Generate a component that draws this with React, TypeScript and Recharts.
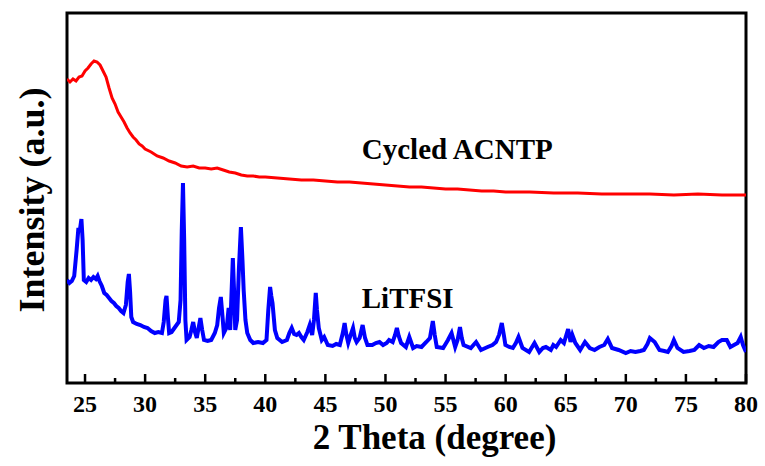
import { LineChart, Line, XAxis, YAxis, ReferenceArea, ReferenceDot } from "recharts";

// 2θ ticks along the bottom (majors every 5°, minors in between)
const thetaTicks = [25, 27.5, 30, 32.5, 35, 37.5, 40, 42.5, 45, 47.5, 50, 52.5, 55, 57.5, 60, 62.5, 65, 67.5, 70, 72.5, 75, 77.5, 80];

// [2θ, intensity a.u.]
const acntp: [number, number][] = [
  [23.5, 304], [23.75, 301], [24.0, 304], [24.25, 302], [24.5, 306], [24.75, 307], [25.0, 312], [25.25, 315],
  [25.5, 319], [25.75, 322], [26.0, 321], [26.25, 318], [26.5, 312], [26.75, 306], [27.0, 295], [27.25, 285],
  [27.5, 279], [27.75, 271], [28.0, 266], [28.25, 261], [28.5, 255], [28.75, 250], [29.0, 246], [29.25, 243],
  [29.5, 239], [29.75, 237], [30.0, 234], [30.5, 231], [31.0, 227], [31.5, 225], [32.0, 222], [32.5, 220],
  [33.0, 217], [33.5, 216], [34.0, 217], [34.5, 215], [35.0, 215], [35.5, 214], [36.0, 215], [36.5, 213],
  [37.0, 211], [37.5, 210], [38.0, 208], [38.5, 207], [39.0, 207], [39.5, 206], [40.0, 206], [41.0, 205],
  [42.0, 204], [43.0, 203], [44.0, 203], [45.0, 202], [46.0, 201], [47.0, 201], [48.0, 200], [49.0, 199],
  [50.0, 198], [51.0, 197], [52.0, 196], [53.0, 196], [54.0, 195], [55.0, 194], [56.0, 194], [57.0, 193],
  [58.0, 192], [59.0, 192], [60.0, 191], [62.0, 191], [64.0, 190], [66.0, 190], [68.0, 189], [70.0, 189],
  [72.0, 189], [74.0, 188], [76.0, 189], [78.0, 188], [80.0, 188],
];

const litfsi: [number, number][] = [
  [23.5, 103], [23.7, 100], [23.9, 102], [24.1, 107], [24.3, 133], [24.45, 155], [24.55, 151], [24.7, 164],
  [24.8, 143], [24.9, 103], [25.1, 101], [25.3, 105], [25.5, 103], [25.7, 106], [25.9, 104], [26.05, 107],
  [26.2, 102], [26.4, 97], [26.6, 90], [26.8, 88], [27.0, 85], [27.2, 82], [27.4, 80], [27.6, 77],
  [27.8, 75], [28.0, 72], [28.2, 70], [28.4, 78], [28.55, 101], [28.65, 109], [28.75, 91], [28.85, 66],
  [29.0, 61], [29.3, 59], [29.6, 58], [29.9, 56], [30.2, 55], [30.5, 52], [30.8, 50], [31.1, 51],
  [31.4, 50], [31.55, 61], [31.7, 83], [31.78, 87], [31.9, 65], [32.0, 50], [32.2, 51], [32.5, 56],
  [32.8, 61], [32.95, 83], [33.05, 153], [33.15, 200], [33.25, 143], [33.35, 63], [33.45, 43], [33.7, 46],
  [33.85, 53], [34.0, 61], [34.15, 51], [34.3, 45], [34.45, 55], [34.6, 65], [34.75, 53], [34.9, 43],
  [35.2, 42], [35.5, 43], [35.8, 50], [36.0, 58], [36.15, 75], [36.3, 86], [36.45, 65], [36.55, 50],
  [36.8, 56], [36.95, 75], [37.08, 53], [37.2, 93], [37.3, 125], [37.4, 93], [37.5, 53], [37.65, 63],
  [37.8, 113], [37.97, 156], [38.1, 123], [38.2, 93], [38.35, 63], [38.5, 50], [38.75, 43], [39.0, 40],
  [39.4, 41], [39.8, 40], [40.1, 43], [40.25, 73], [40.4, 96], [40.5, 87], [40.6, 80], [40.8, 53],
  [41.0, 45], [41.4, 41], [41.8, 43], [42.0, 50], [42.2, 55], [42.4, 49], [42.6, 48], [42.8, 50],
  [43.0, 46], [43.2, 43], [43.5, 51], [43.7, 58], [43.9, 48], [44.05, 63], [44.2, 90], [44.3, 73],
  [44.45, 55], [44.7, 43], [44.9, 46], [45.2, 38], [45.6, 37], [45.9, 39], [46.2, 38], [46.45, 50],
  [46.6, 60], [46.75, 48], [46.9, 40], [47.1, 48], [47.3, 55], [47.45, 45], [47.6, 41], [47.85, 45],
  [48.1, 58], [48.3, 45], [48.5, 38], [48.9, 38], [49.2, 40], [49.5, 41], [49.8, 38], [50.1, 40],
  [50.3, 43], [50.6, 41], [50.8, 48], [50.95, 55], [51.1, 47], [51.3, 40], [51.7, 36], [51.98, 46],
  [52.3, 35], [52.6, 37], [53.0, 36], [53.4, 41], [53.7, 45], [53.94, 62], [54.1, 48], [54.27, 36],
  [54.8, 35], [55.2, 43], [55.5, 50], [55.8, 36], [56.0, 43], [56.2, 56], [56.35, 45], [56.5, 38],
  [57.1, 35], [57.54, 41], [57.95, 33], [58.5, 36], [58.9, 38], [59.2, 41], [59.45, 48], [59.68, 60],
  [59.85, 48], [59.98, 38], [60.3, 36], [60.6, 35], [60.85, 40], [61.07, 46], [61.25, 40], [61.4, 35],
  [61.95, 31], [62.4, 40], [62.8, 31], [63.1, 35], [63.35, 36], [63.76, 33], [63.97, 38], [64.2, 36],
  [64.58, 43], [64.85, 40], [65.05, 48], [65.2, 54], [65.4, 41], [65.55, 48], [65.8, 40], [66.2, 33],
  [66.6, 41], [67.0, 35], [67.4, 33], [67.8, 36], [68.2, 38], [68.5, 44], [68.85, 35], [69.4, 33],
  [70.0, 30], [70.4, 32], [70.8, 31], [71.2, 32], [71.5, 33], [71.8, 39], [72.0, 45], [72.4, 41],
  [72.8, 33], [73.2, 32], [73.5, 31], [73.8, 37], [74.0, 43], [74.3, 35], [74.8, 31], [75.3, 32],
  [75.7, 33], [76.1, 38], [76.5, 35], [76.9, 37], [77.3, 36], [77.7, 41], [78.0, 43], [78.4, 43],
  [78.7, 36], [79.0, 38], [79.3, 40], [79.56, 46], [79.75, 38], [80.0, 31],
];

const FONT = "'Times New Roman', 'Liberation Serif', serif";

const toRows = (pts: [number, number][]) => pts.map(([t, v]) => ({ t, v }));

function ThetaTick({ x, y, payload }: any) {
  const major = payload.value % 5 === 0;
  return (
    <g>
      <line x1={x} x2={x} y1={y} y2={y - (major ? 9 : 5)} stroke="#000" strokeWidth={2.5} />
      {major && (
        <text x={x} y={y + 29} textAnchor="middle" fontFamily={FONT} fontWeight="bold" fontSize={24} fill="#000">
          {payload.value}
        </text>
      )}
    </g>
  );
}

function SeriesName({ viewBox, text }: any) {
  return (
    <text x={viewBox.x} y={viewBox.y} fontFamily={FONT} fontWeight="bold" fontSize={29} fill="#000">
      {text}
    </text>
  );
}

// both axis titles, placed relative to the x-axis box
function AxisTitles({ viewBox }: any) {
  const midY = viewBox.y - 370 / 2 + 2;
  return (
    <g>
      <text
        x={viewBox.x + viewBox.width / 2 + 28}
        y={viewBox.y + 66}
        textAnchor="middle"
        fontFamily={FONT}
        fontWeight="bold"
        fontSize={35}
        fill="#000"
      >
        2 Theta (degree)
      </text>
      <text
        x={32}
        y={midY}
        transform={`rotate(-90, 32, ${midY})`}
        textAnchor="middle"
        dominantBaseline="central"
        fontFamily={FONT}
        fontWeight="bold"
        fontSize={36}
        fill="#000"
      >
        Intensity (a.u.)
      </text>
    </g>
  );
}

export default function App() {
  return (
    <div style={{ position: "absolute", left: 0, top: 0, width: 765, height: 466, background: "#fff" }}>
      <LineChart width={765} height={466} margin={{ top: 13, right: 19, bottom: 0, left: 67 }}>
        <XAxis
          dataKey="t"
          type="number"
          domain={[23.5, 80]}
          allowDataOverflow
          ticks={thetaTicks}
          interval={0}
          tickSize={0}
          tickMargin={0}
          axisLine={false}
          tickLine={false}
          tick={<ThetaTick />}
          height={83}
          label={{ content: (p: any) => <AxisTitles {...p} /> }}
        />
        <YAxis type="number" domain={[0, 370]} width={0} tick={false} axisLine={false} tickLine={false} />
        <Line
          data={toRows(acntp)}
          dataKey="v"
          type="linear"
          stroke="#ff0000"
          strokeWidth={3}
          dot={false}
          isAnimationActive={false}
        />
        <Line
          data={toRows(litfsi)}
          dataKey="v"
          type="linear"
          stroke="#0000ff"
          strokeWidth={4}
          dot={false}
          isAnimationActive={false}
        />
        <ReferenceDot
          x={48.03}
          y={224}
          r={0}
          fill="none"
          stroke="none"
          label={{ content: (p: any) => <SeriesName {...p} text="Cycled ACNTP" /> }}
        />
        <ReferenceDot
          x={48.03}
          y={75}
          r={0}
          fill="none"
          stroke="none"
          label={{ content: (p: any) => <SeriesName {...p} text="LiTFSI" /> }}
        />
        <ReferenceArea x1={23.5} x2={80} y1={0} y2={370} fill="none" stroke="#000" strokeWidth={3} />
      </LineChart>
    </div>
  );
}
